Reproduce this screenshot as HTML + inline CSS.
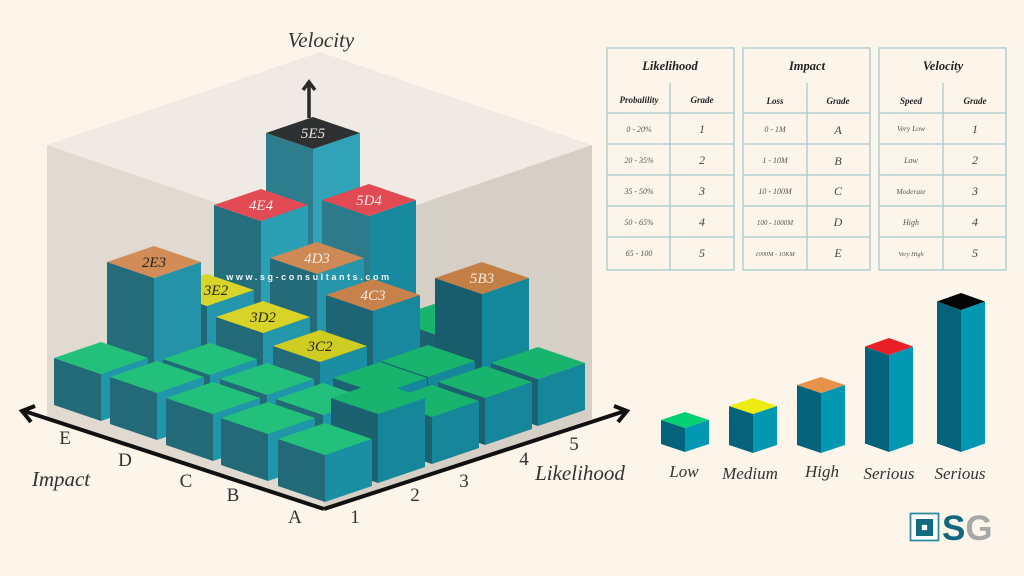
<!DOCTYPE html>
<html><head><meta charset="utf-8"><style>
html,body{margin:0;padding:0;background:#fdf5ea;}
svg{display:block;}
.lab{font-family:"Liberation Serif",serif;font-style:italic;font-size:15px;text-anchor:middle;}
.ax{font-family:"Liberation Serif",serif;font-size:19px;fill:#333;text-anchor:middle;}
.axi{font-family:"Liberation Serif",serif;font-style:italic;font-size:21px;fill:#333;text-anchor:middle;}
.tt{font-family:"Liberation Serif",serif;font-style:italic;font-weight:bold;font-size:12.5px;fill:#222;text-anchor:middle;}
.th{font-family:"Liberation Serif",serif;font-style:italic;font-weight:bold;font-size:9px;fill:#222;text-anchor:middle;}
.tv{font-family:"Liberation Serif",serif;font-style:italic;font-size:8px;fill:#555;text-anchor:middle;}
.tg{font-family:"Liberation Serif",serif;font-style:italic;font-size:12px;fill:#444;text-anchor:middle;}
.lg{font-family:"Liberation Serif",serif;font-style:italic;font-size:17px;fill:#333;text-anchor:middle;}
.gT{fill:#22c07a}.gL{fill:#236a78}.gR{fill:#2096aa}
.rT{fill:#18b46d}.rL{fill:#1c6170}.rR{fill:#16879b}
.tbl{fill:none;stroke:#a3cbcf;stroke-width:1.3}
</style></head><body>
<svg width="1024" height="576" viewBox="0 0 1024 576" xmlns="http://www.w3.org/2000/svg">
<rect width="1024" height="576" fill="#fdf5ea"/>

<!-- backdrop box -->
<polygon points="47,145 320,52 592,145 320,238" fill="#efebe4"/>
<polygon points="47,145 320,238 324,509 47,420" fill="#e0dad1"/>
<polygon points="320,238 592,145 592,419 324,509" fill="#d6cfc6"/>

<!-- sum 8 -->
<g transform="translate(313,117)">
<polygon points="-47,16 0,32 0,225 -47,209" fill="#2e7d8c"/>
<polygon points="0,32 47,16 47,209 0,225" fill="#31a3b8"/>
<polygon points="0,0 47,16 0,32 -47,16" fill="#2e3032"/>
<text class="lab" x="0" y="21" fill="#e8e2dc">5E5</text>
</g>

<!-- sum 7 -->
<g transform="translate(261,189)">
<polygon points="-47,16 0,32 0,173 -47,157" fill="#246e7d"/>
<polygon points="0,32 47,16 47,157 0,173" fill="#2b9fb3"/>
<polygon points="0,0 47,16 0,32 -47,16" fill="#e24a54"/>
<text class="lab" x="0" y="21" fill="#f6e8e6">4E4</text>
</g>
<g transform="translate(369,184)">
<polygon points="-47,16 0,32 0,178 -47,162" fill="#2d7b8a"/>
<polygon points="0,32 47,16 47,162 0,178" fill="#178a9f"/>
<polygon points="0,0 47,16 0,32 -47,16" fill="#e24a53"/>
<text class="lab" x="0" y="21" fill="#f6e8e6">5D4</text>
</g>

<!-- sum 6 -->
<g transform="translate(437,303)">
<polygon class="rL" points="-47,16 0,32 0,79 -47,63"/>
<polygon class="rR" points="0,32 47,16 47,63 0,79"/>
<polygon class="rT" points="0,0 47,16 0,32 -47,16"/>
</g>
<g transform="translate(317,242)">
<polygon points="-47,16 0,32 0,140 -47,124" fill="#236b79"/>
<polygon points="0,32 47,16 47,124 0,140" fill="#2596ab"/>
<polygon points="0,0 47,16 0,32 -47,16" fill="#cd8a55"/>
<text class="lab" x="0" y="21" fill="#f6ece2">4D3</text>
</g>
<g transform="translate(207,274)">
<polygon points="-47,16 0,32 0,108 -47,92" fill="#1f6877"/>
<polygon points="0,32 47,16 47,92 0,108" fill="#2396ab"/>
<polygon points="0,0 47,16 0,32 -47,16" fill="#d7d42a"/>
<text class="lab" x="9" y="21" fill="#222">3E2</text>
</g>

<!-- sum 5 -->
<g transform="translate(154,246)">
<polygon points="-47,16 0,32 0,156 -47,140" fill="#246c7a"/>
<polygon points="0,32 47,16 47,140 0,156" fill="#2493a8"/>
<polygon points="0,0 47,16 0,32 -47,16" fill="#d28c58"/>
<text class="lab" x="0" y="21" fill="#222">2E3</text>
</g>
<g transform="translate(263,301)">
<polygon points="-47,16 0,32 0,101 -47,85" fill="#236a78"/>
<polygon points="0,32 47,16 47,85 0,101" fill="#2496ab"/>
<polygon points="0,0 47,16 0,32 -47,16" fill="#d7d427"/>
<text class="lab" x="0" y="21" fill="#222">3D2</text>
</g>
<g transform="translate(373,279)">
<polygon points="-47,16 0,32 0,123 -47,107" fill="#1d6474"/>
<polygon points="0,32 47,16 47,107 0,123" fill="#17889d"/>
<polygon points="0,0 47,16 0,32 -47,16" fill="#c7814a"/>
<text class="lab" x="0" y="21" fill="#f6ece2">4C3</text>
</g>
<g transform="translate(482,262)">
<polygon points="-47,16 0,32 0,140 -47,124" fill="#185d6c"/>
<polygon points="0,32 47,16 47,124 0,140" fill="#15879b"/>
<polygon points="0,0 47,16 0,32 -47,16" fill="#c47f46"/>
<text class="lab" x="0" y="21" fill="#f6ece2">5B3</text>
</g>

<!-- sum 4 -->
<g transform="translate(320,330)">
<polygon points="-47,16 0,32 0,92 -47,76" fill="#246b79"/>
<polygon points="0,32 47,16 47,76 0,92" fill="#1c8ea3"/>
<polygon points="0,0 47,16 0,32 -47,16" fill="#cfcc22"/>
<text class="lab" x="0" y="21" fill="#222">3C2</text>
</g>
<g transform="translate(101,342)">
<polygon class="gL" points="-47,16 0,32 0,79 -47,63"/>
<polygon class="gR" points="0,32 47,16 47,63 0,79"/>
<polygon class="gT" points="0,0 47,16 0,32 -47,16"/>
</g>
<g transform="translate(210,343)">
<polygon class="gL" points="-47,16 0,32 0,79 -47,63"/>
<polygon class="gR" points="0,32 47,16 47,63 0,79"/>
<polygon class="gT" points="0,0 47,16 0,32 -47,16"/>
</g>
<g transform="translate(428,345)">
<polygon class="rL" points="-47,16 0,32 0,79 -47,63"/>
<polygon class="rR" points="0,32 47,16 47,63 0,79"/>
<polygon class="rT" points="0,0 47,16 0,32 -47,16"/>
</g>
<g transform="translate(538,347)">
<polygon class="rL" points="-47,16 0,32 0,79 -47,63"/>
<polygon class="rR" points="0,32 47,16 47,63 0,79"/>
<polygon class="rT" points="0,0 47,16 0,32 -47,16"/>
</g>

<!-- sum 3 -->
<g transform="translate(157,361)">
<polygon class="gL" points="-47,16 0,32 0,79 -47,63"/>
<polygon class="gR" points="0,32 47,16 47,63 0,79"/>
<polygon class="gT" points="0,0 47,16 0,32 -47,16"/>
</g>
<g transform="translate(267,363)">
<polygon class="gL" points="-47,16 0,32 0,79 -47,63"/>
<polygon class="gR" points="0,32 47,16 47,63 0,79"/>
<polygon class="gT" points="0,0 47,16 0,32 -47,16"/>
</g>
<g transform="translate(380,362)">
<polygon class="rL" points="-47,16 0,32 0,79 -47,63"/>
<polygon class="rR" points="0,32 47,16 47,63 0,79"/>
<polygon class="rT" points="0,0 47,16 0,32 -47,16"/>
</g>
<g transform="translate(485,366)">
<polygon class="rL" points="-47,16 0,32 0,79 -47,63"/>
<polygon class="rR" points="0,32 47,16 47,63 0,79"/>
<polygon class="rT" points="0,0 47,16 0,32 -47,16"/>
</g>

<!-- sum 2 -->
<g transform="translate(213,382)">
<polygon class="gL" points="-47,16 0,32 0,79 -47,63"/>
<polygon class="gR" points="0,32 47,16 47,63 0,79"/>
<polygon class="gT" points="0,0 47,16 0,32 -47,16"/>
</g>
<g transform="translate(323,383)">
<polygon class="gL" points="-47,16 0,32 0,79 -47,63"/>
<polygon class="gR" points="0,32 47,16 47,63 0,79"/>
<polygon class="gT" points="0,0 47,16 0,32 -47,16"/>
</g>
<g transform="translate(432,385)">
<polygon class="rL" points="-47,16 0,32 0,79 -47,63"/>
<polygon class="rR" points="0,32 47,16 47,63 0,79"/>
<polygon class="rT" points="0,0 47,16 0,32 -47,16"/>
</g>

<!-- sum 1 -->
<g transform="translate(268,402)">
<polygon class="gL" points="-47,16 0,32 0,79 -47,63"/>
<polygon class="gR" points="0,32 47,16 47,63 0,79"/>
<polygon class="gT" points="0,0 47,16 0,32 -47,16"/>
</g>
<g transform="translate(378,382)">
<polygon class="rL" points="-47,16 0,32 0,101 -47,85"/>
<polygon class="rR" points="0,32 47,16 47,85 0,101"/>
<polygon class="rT" points="0,0 47,16 0,32 -47,16"/>
</g>

<!-- sum 0 -->
<g transform="translate(325,423)">
<polygon class="gL" points="-47,16 0,32 0,79 -47,63"/>
<polygon points="0,32 47,16 47,63 0,79" fill="#1a8ea2"/>
<polygon class="gT" points="0,0 47,16 0,32 -47,16"/>
</g>

<!-- watermark -->
<text x="309" y="280" text-anchor="middle" font-family="Liberation Sans, sans-serif" font-weight="bold" font-size="9" letter-spacing="2.6" fill="#ffffff" fill-opacity="0.92">www.sg-consultants.com</text>

<!-- axes -->
<g stroke="#111" stroke-width="4" fill="none" stroke-linejoin="miter">
<line x1="324" y1="509" x2="24" y2="411"/>
<line x1="324" y1="509" x2="625" y2="411"/>
<polyline points="35,406 22,411 31,422"/>
<polyline points="614,406 627,411 618,422"/>
</g>
<g stroke="#2a2a2a" stroke-width="3.5" fill="none">
<line x1="309" y1="118" x2="309" y2="83"/>
<polyline points="303,90 309,82 315,90"/>
</g>

<text class="axi" x="321" y="47">Velocity</text>
<text class="axi" x="61" y="486">Impact</text>
<text class="axi" x="580" y="480">Likelihood</text>
<text class="ax" x="65" y="444">E</text>
<text class="ax" x="125" y="466">D</text>
<text class="ax" x="186" y="487">C</text>
<text class="ax" x="233" y="501">B</text>
<text class="ax" x="295" y="523">A</text>
<text class="ax" x="355" y="523">1</text>
<text class="ax" x="415" y="501">2</text>
<text class="ax" x="464" y="487">3</text>
<text class="ax" x="524" y="465">4</text>
<text class="ax" x="574" y="450">5</text>

<!-- tables -->
<g>
<rect class="tbl" x="607" y="48" width="127" height="222"/>
<line class="tbl" x1="670" y1="83" x2="670" y2="270"/>
<line class="tbl" x1="607" y1="113" x2="734" y2="113"/>
<line class="tbl" x1="607" y1="144" x2="734" y2="144"/>
<line class="tbl" x1="607" y1="175" x2="734" y2="175"/>
<line class="tbl" x1="607" y1="206" x2="734" y2="206"/>
<line class="tbl" x1="607" y1="237" x2="734" y2="237"/>
<text class="tt" x="670" y="70">Likelihood</text>
<text class="th" x="639" y="103">Probalility</text>
<text class="th" x="702" y="103">Grade</text>
<text class="tv" x="639" y="132">0 - 20%</text><text class="tg" x="702" y="133">1</text>
<text class="tv" x="639" y="163">20 - 35%</text><text class="tg" x="702" y="164">2</text>
<text class="tv" x="639" y="194">35 - 50%</text><text class="tg" x="702" y="195">3</text>
<text class="tv" x="639" y="225">50 - 65%</text><text class="tg" x="702" y="226">4</text>
<text class="tv" x="639" y="256">65 - 100</text><text class="tg" x="702" y="257">5</text>

<rect class="tbl" x="743" y="48" width="127" height="222"/>
<line class="tbl" x1="807" y1="83" x2="807" y2="270"/>
<line class="tbl" x1="743" y1="113" x2="870" y2="113"/>
<line class="tbl" x1="743" y1="144" x2="870" y2="144"/>
<line class="tbl" x1="743" y1="175" x2="870" y2="175"/>
<line class="tbl" x1="743" y1="206" x2="870" y2="206"/>
<line class="tbl" x1="743" y1="237" x2="870" y2="237"/>
<text class="tt" x="807" y="70">Impact</text>
<text class="th" x="775" y="104">Loss</text>
<text class="th" x="838" y="104">Grade</text>
<text class="tv" x="775" y="132">0 - 1M</text><text class="tg" x="838" y="134">A</text>
<text class="tv" x="775" y="163">1 - 10M</text><text class="tg" x="838" y="165">B</text>
<text class="tv" x="775" y="194">10 - 100M</text><text class="tg" x="838" y="195">C</text>
<text class="tv" x="775" y="225" style="font-size:7px">100 - 1000M</text><text class="tg" x="838" y="226">D</text>
<text class="tv" x="775" y="256" style="font-size:6.4px">1000M - 10KM</text><text class="tg" x="838" y="257">E</text>

<rect class="tbl" x="879" y="48" width="127" height="222"/>
<line class="tbl" x1="943" y1="83" x2="943" y2="270"/>
<line class="tbl" x1="879" y1="113" x2="1006" y2="113"/>
<line class="tbl" x1="879" y1="144" x2="1006" y2="144"/>
<line class="tbl" x1="879" y1="175" x2="1006" y2="175"/>
<line class="tbl" x1="879" y1="206" x2="1006" y2="206"/>
<line class="tbl" x1="879" y1="237" x2="1006" y2="237"/>
<text class="tt" x="943" y="70">Velocity</text>
<text class="th" x="911" y="104">Speed</text>
<text class="th" x="975" y="104">Grade</text>
<text class="tv" x="911" y="131" style="font-size:7.5px">Very Low</text><text class="tg" x="975" y="133">1</text>
<text class="tv" x="911" y="163">Low</text><text class="tg" x="975" y="164">2</text>
<text class="tv" x="911" y="194" style="font-size:7.5px">Moderate</text><text class="tg" x="975" y="195">3</text>
<text class="tv" x="911" y="225">High</text><text class="tg" x="975" y="226">4</text>
<text class="tv" x="911" y="256" style="font-size:6.3px">Very High</text><text class="tg" x="975" y="257">5</text>
</g>

<!-- legend cubes -->
<g>
<polygon points="661,420 685,428 685,452 661,444" fill="#04627a"/>
<polygon points="685,428 709,420 709,444 685,452" fill="#0398b1"/>
<polygon points="685,412 709,420 685,428 661,420" fill="#03cf73"/>

<polygon points="729,406 753,414 753,453 729,445" fill="#04627a"/>
<polygon points="753,414 777,406 777,445 753,453" fill="#0398b1"/>
<polygon points="753,398 777,406 753,414 729,406" fill="#eeeb10"/>

<polygon points="797,385 821,393 821,453 797,445" fill="#04627a"/>
<polygon points="821,393 845,385 845,445 821,453" fill="#0398b1"/>
<polygon points="821,377 845,385 821,393 797,385" fill="#e8914a"/>

<polygon points="865,346.5 889,355 889,452 865,443.5" fill="#04627a"/>
<polygon points="889,355 913,346.5 913,443.5 889,452" fill="#0398b1"/>
<polygon points="889,338 913,346.5 889,355 865,346.5" fill="#ea1f27"/>

<polygon points="937,301.5 961,310 961,452 937,443.5" fill="#04627a"/>
<polygon points="961,310 985,301.5 985,443.5 961,452" fill="#0398b1"/>
<polygon points="961,293 985,301.5 961,310 937,301.5" fill="#050505"/>
</g>
<text class="lg" x="684" y="477">Low</text>
<text class="lg" x="750" y="479">Medium</text>
<text class="lg" x="822" y="477">High</text>
<text class="lg" x="889" y="479">Serious</text>
<text class="lg" x="960" y="479">Serious</text>

<!-- SG logo -->
<rect x="910.5" y="513.5" width="28" height="27" fill="#ffffff" stroke="#2a8c9e" stroke-width="1.8"/>
<rect x="916" y="519" width="17" height="17" fill="#136b80"/>
<rect x="921.5" y="524.5" width="6" height="6" fill="#ffffff" stroke="#0d4e5e" stroke-width="0.6"/>
<text x="942" y="540" font-family="Liberation Sans, sans-serif" font-weight="bold" font-size="35" fill="#10687f">S<tspan fill="#a8a8a8">G</tspan></text>
</svg>
</body></html>
